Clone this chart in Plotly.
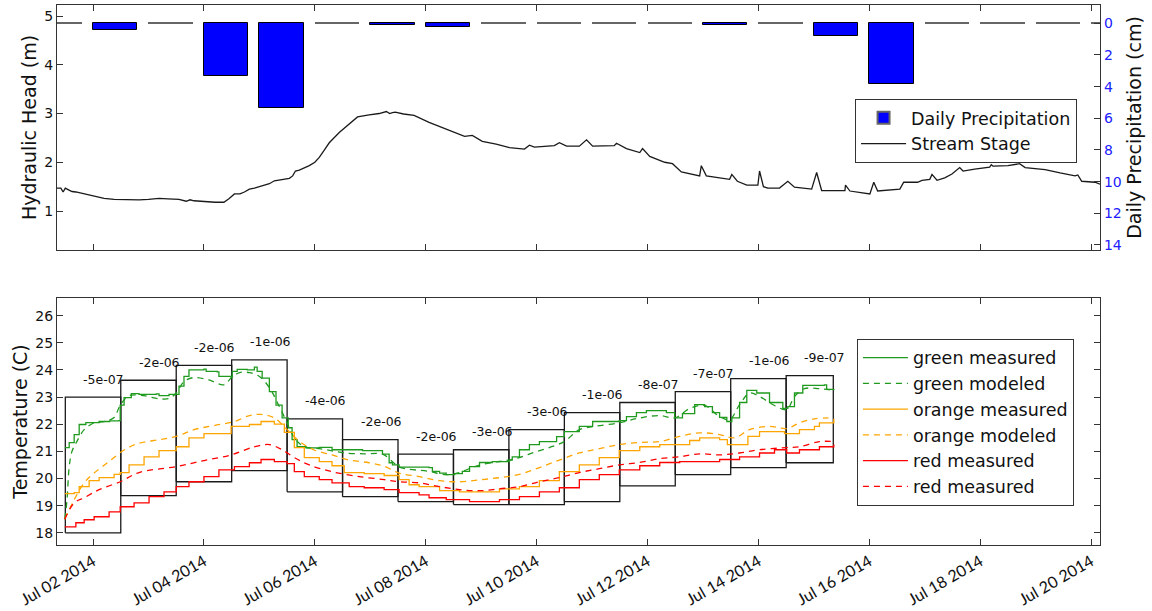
import pandas as pd
import plotly.graph_objects as go

# ---------------------------------------------------------------- data
# days are given as fractional day-of-July 2014 (1.5 = Jul 01 12:00)

precip_day = [1, 2, 3, 4, 5, 6, 7, 8, 9, 10, 11, 12, 13, 14, 15, 16, 17, 18, 19, 20]
precip_cm = [0, 0.45, 0, 3.34, 5.36, 0, 0.1, 0.22, 0, 0, 0, 0, 0.12, 0, 0.82, 3.85, 0, 0, 0, 0]

stage_day = [1.35, 1.42, 1.46, 1.50, 1.55, 1.62, 1.69, 1.85, 2.02, 2.2, 2.38, 2.6, 2.83, 3.0,
             3.19, 3.35, 3.55, 3.68, 3.75, 3.82, 4.0, 4.2, 4.36, 4.45, 4.55, 4.65, 4.73, 4.82,
             4.91, 5.09, 5.18, 5.27, 5.4, 5.54, 5.6, 5.65, 5.72, 5.9, 6.0, 6.08, 6.17, 6.26,
             6.44, 6.62, 6.77, 6.98, 7.16, 7.29, 7.35, 7.40, 7.45, 7.6, 7.79, 8.06, 8.30, 8.52,
             8.70, 8.84, 9.02, 9.27, 9.51, 9.78, 9.87, 9.96, 10.32, 10.41, 10.54, 10.77, 10.90,
             11.01, 11.40, 11.44, 11.62, 11.86, 11.91, 12.04, 12.31, 12.45, 12.61, 12.94, 12.97,
             13.06, 13.48, 13.52, 13.62, 13.79, 13.99, 14.02, 14.09, 14.17, 14.38, 14.53, 14.65,
             14.96, 15.05, 15.14, 15.56, 15.57, 15.65, 16.01, 16.08, 16.15, 16.55, 16.62, 16.87,
             16.95, 17.09, 17.13, 17.22, 17.36, 17.49, 17.63, 17.69, 17.90, 18.17, 18.20, 18.23,
             18.5, 18.71, 18.81, 19.17, 19.44, 19.71, 19.76, 19.83, 20.07, 20.16]
stage_m = [1.47, 1.47, 1.39, 1.47, 1.44, 1.40, 1.39, 1.35, 1.30, 1.26, 1.24, 1.23, 1.23, 1.24,
           1.26, 1.25, 1.24, 1.20, 1.23, 1.21, 1.19, 1.18, 1.18, 1.25, 1.35, 1.35, 1.39, 1.45,
           1.47, 1.53, 1.56, 1.62, 1.64, 1.67, 1.72, 1.82, 1.84, 1.93, 2.0, 2.1, 2.25, 2.4,
           2.61, 2.78, 2.93, 2.97, 3.0, 3.04, 3.0, 3.02, 3.03, 2.99, 2.96, 2.82, 2.71, 2.61,
           2.53, 2.55, 2.43, 2.37, 2.30, 2.27, 2.35, 2.31, 2.34, 2.40, 2.33, 2.33, 2.46,
           2.33, 2.34, 2.39, 2.28, 2.20, 2.28, 2.12, 2.0, 1.97, 1.80, 1.72, 1.93,
           1.72, 1.65, 1.75, 1.61, 1.53, 1.53, 1.82, 1.50, 1.47, 1.47, 1.61, 1.49,
           1.45, 1.79, 1.42, 1.42, 1.53, 1.41, 1.35, 1.59, 1.41, 1.45, 1.59, 1.59,
           1.63, 1.65, 1.75, 1.63, 1.68, 1.76, 1.89, 1.82, 1.86, 1.90, 1.95, 1.92,
           1.93, 1.97, 1.89, 1.85, 1.78, 1.72, 1.74, 1.61, 1.59, 1.55]

green_meas_day = [1.49, 1.57, 1.66, 1.75, 1.87, 2.11, 2.3, 2.47, 2.49, 2.56, 2.69, 2.83, 3.14, 3.19,
                  3.37, 3.50, 3.55, 3.64, 3.73, 4.0, 4.04, 4.24, 4.27, 4.49, 4.51, 4.60, 4.78,
                  4.91, 4.96, 5.05, 5.18, 5.30, 5.41, 5.52, 5.59, 5.68, 5.84, 6.08, 6.31, 6.86,
                  7.11, 7.22, 7.34, 7.40, 7.52, 8.06, 8.12, 8.25, 8.37, 8.52, 8.66, 8.79, 8.97,
                  9.2, 9.45, 9.51, 9.56, 9.69, 9.87, 10.05, 10.36, 10.50, 10.77, 11.01, 11.49,
                  11.62, 11.80, 11.98, 12.34, 12.49, 12.63, 12.85, 13.03, 13.17, 13.30, 13.43,
                  13.52, 13.66, 13.79, 13.97, 14.20, 14.44, 14.53, 14.65, 14.80, 15.05, 15.19,
                  15.23, 15.36]
green_meas_t = [21.14, 21.32, 21.62, 21.99, 22.06, 22.1, 22.12, 22.13, 22.7, 22.98, 23.13, 23.1, 23.12,
                23.05, 23.1, 23.1, 23.4, 23.76, 24.0, 24.03, 23.95, 23.93, 23.76, 23.73, 23.95, 24.02,
                24.0, 24.1, 23.95, 23.7, 23.2, 22.7, 22.23, 21.87, 21.43, 21.17, 21.13, 21.15, 21.06,
                21.03, 21.03, 20.9, 20.58, 20.5, 20.42, 20.4, 20.26, 20.2, 20.14, 20.18, 20.26, 20.44,
                20.59, 20.62, 20.62, 20.68, 20.8, 21.06, 21.25, 21.36, 21.54, 21.73, 21.92, 22.1,
                22.13, 22.28, 22.43, 22.5, 22.43, 22.23, 22.39, 22.72, 22.65, 22.43, 22.25, 22.1,
                22.23, 22.8, 23.25, 23.15, 22.8, 22.58, 22.65, 23.15, 23.43, 23.43, 23.45, 23.28,
                23.25]

green_mod_day = [1.49, 1.53, 1.57, 1.62, 1.71, 1.84, 2.02, 2.20, 2.38, 2.49, 2.65, 2.92, 3.19, 3.37,
                 3.50, 3.64, 3.82, 4.09, 4.36, 4.49, 4.64, 4.82, 5.0, 5.18, 5.36, 5.50, 5.63, 5.81,
                 6.08, 6.31, 6.53, 6.89, 7.22, 7.40, 7.52, 8.06, 8.37, 8.61, 8.88, 9.20, 9.45,
                 9.69, 9.96, 10.23, 10.50, 10.77, 11.04, 11.49, 11.86, 12.22, 12.49, 12.76, 13.03,
                 13.30, 13.48, 13.66, 13.84, 14.02, 14.29, 14.51, 14.65, 14.83, 15.10, 15.36]
green_mod_t = [18.5, 19.2, 20.43, 21.0, 21.37, 21.8, 22.05, 22.1, 22.25, 22.7, 23.05, 23.05, 22.94,
               22.95, 23.15, 23.57, 23.72, 23.63, 23.45, 23.7, 23.9, 23.9, 23.76, 23.35, 22.65,
               22.05, 21.5, 21.17, 21.1, 21.02, 20.94, 20.91, 20.9, 20.62, 20.42, 20.26, 20.14,
               20.22, 20.44, 20.59, 20.66, 20.77, 20.97, 21.14, 21.36, 21.8, 21.92, 22.05, 22.23,
               22.32, 22.23, 22.58, 22.69, 22.28, 22.17, 22.72, 23.15, 23.02, 22.69, 22.54, 23.02,
               23.31, 23.31, 23.25]

orange_meas_day = [1.49, 1.66, 1.75, 1.93, 2.11, 2.38, 2.49, 2.65, 2.92, 3.19, 3.50, 3.73, 4.0, 4.49,
                   4.82, 5.03, 5.27, 5.45, 5.63, 5.81, 6.08, 6.31, 6.53, 6.89, 7.25, 7.52, 7.7,
                   7.88, 8.25, 8.61, 8.97, 9.33, 9.69, 10.05, 10.41, 10.77, 11.13, 11.49, 11.86,
                   12.22, 12.58, 12.76, 12.94, 13.30, 13.44, 13.66, 13.81, 14.02, 14.47, 14.74,
                   15.01, 15.10, 15.36]
orange_meas_t = [19.44, 19.48, 19.7, 19.92, 20.03, 20.15, 20.22, 20.5, 20.8, 21.03, 21.17, 21.5, 21.65,
                 21.92, 21.99, 22.1, 22.0, 21.7, 21.14, 20.77, 20.62, 20.47, 20.22, 20.18, 20.11,
                 19.96, 19.77, 19.7, 19.55, 19.51, 19.51, 19.62, 19.7, 19.92, 20.25, 20.5, 20.77,
                 21.03, 21.17, 21.25, 21.25, 21.4, 21.5, 21.43, 21.25, 21.25, 21.55, 21.73, 21.65,
                 21.8, 21.92, 22.05, 22.2]

orange_mod_day = [1.49, 1.66, 1.84, 2.02, 2.29, 2.56, 2.83, 3.19, 3.50, 3.82, 4.18, 4.55, 4.82, 5.03,
                  5.27, 5.50, 5.72, 5.99, 6.31, 6.62, 6.98, 7.25, 7.52, 7.88, 8.25, 8.61, 8.97,
                  9.33, 9.69, 10.05, 10.41, 10.77, 11.13, 11.49, 11.86, 12.22, 12.58, 12.94, 13.30,
                  13.57, 13.84, 14.20, 14.51, 14.74, 15.01, 15.36]
orange_mod_t = [18.5, 19.22, 19.84, 20.2, 20.63, 21.05, 21.3, 21.43, 21.55, 21.8, 21.95, 22.1, 22.32,
                22.36, 22.23, 21.8, 21.37, 21.05, 20.87, 20.68, 20.58, 20.45, 20.2, 20.07, 19.92,
                19.88, 19.95, 20.03, 20.15, 20.4, 20.68, 20.94, 21.1, 21.25, 21.33, 21.36, 21.55,
                21.68, 21.62, 21.5, 21.8, 21.92, 21.84, 22.05, 22.2, 22.23]

red_meas_day = [1.49, 1.69, 1.84, 2.02, 2.29, 2.49, 2.74, 3.01, 3.28, 3.50, 3.73, 4.0, 4.27, 4.55,
                4.82, 5.03, 5.27, 5.50, 5.63, 5.81, 6.08, 6.31, 6.62, 6.89, 7.25, 7.52, 7.88,
                8.06, 8.37, 8.79, 9.33, 9.69, 10.05, 10.41, 10.77, 11.13, 11.49, 11.86, 12.22,
                12.58, 13.30, 13.66, 14.02, 14.29, 14.51, 14.74, 15.10, 15.36]
red_meas_t = [18.22, 18.37, 18.48, 18.59, 18.77, 18.96, 19.1, 19.33, 19.51, 19.7, 19.88, 20.07, 20.32,
              20.44, 20.58, 20.7, 20.62, 20.55, 20.25, 20.07, 19.96, 19.84, 19.7, 19.66, 19.59,
              19.48, 19.4, 19.29, 19.22, 19.15, 19.22, 19.33, 19.51, 19.66, 19.96, 20.14, 20.32,
              20.47, 20.59, 20.62, 20.7, 20.8, 20.94, 21.06, 20.94, 21.06, 21.17, 21.25]

red_mod_day = [1.49, 1.66, 1.84, 2.11, 2.49, 2.83, 3.50, 4.0, 4.49, 4.91, 5.18, 5.41, 5.63, 5.90,
               6.31, 6.80, 7.25, 7.52, 7.88, 8.25, 8.61, 8.97, 9.33, 9.69, 10.05, 10.41, 10.77,
               11.13, 11.49, 11.86, 12.22, 12.58, 12.94, 13.30, 13.66, 14.02, 14.51, 14.74,
               15.10, 15.36]
red_mod_t = [18.5, 19.1, 19.29, 19.59, 19.88, 20.22, 20.44, 20.66, 20.87, 21.17, 21.25, 21.06, 20.77,
             20.5, 20.25, 20.07, 19.96, 19.88, 19.84, 19.7, 19.59, 19.55, 19.62, 19.7, 19.88,
             20.03, 20.22, 20.36, 20.5, 20.59, 20.73, 20.8, 20.91, 20.87, 20.94, 21.06, 21.14,
             21.17, 21.36, 21.36]

# daily analysis windows and the flux value fitted for each one
window_start = [1.5, 2.5, 3.5, 4.5, 5.5, 6.5, 7.5, 8.5, 9.5, 10.5, 11.5, 12.5, 13.5, 14.5]
window_end = [2.5, 3.5, 4.5, 5.5, 6.5, 7.5, 8.5, 9.5, 10.5, 11.5, 12.5, 13.5, 14.5, 15.35]
window_low = [18.0, 19.37, 19.88, 20.29, 19.51, 19.33, 19.15, 19.04, 19.04, 19.15, 19.73, 20.14, 20.4, 20.58]
window_high = [23.0, 23.62, 24.17, 24.37, 22.2, 21.43, 20.9, 21.06, 21.8, 22.43, 22.8, 23.2, 23.68, 23.79]
window_flux = ["-5e-07", "-2e-06", "-2e-06", "-1e-06", "-4e-06", "-2e-06", "-2e-06", "-3e-06",
               "-3e-06", "-1e-06", "-8e-07", "-7e-07", "-1e-06", "-9e-07"]

# ---------------------------------------------------------------- helpers
JUL1 = pd.Timestamp("2014-07-01")


def to_time(days):
    return [JUL1 + pd.Timedelta(days=d - 1) for d in days]


FONT = "DejaVu Sans"
INK = "#111111"
FRAME = "#333333"
GREEN, ORANGE, RED = "#1f9a1f", "#ffa500", "#ff0000"

fig = go.Figure()

# ---------------------------------------------------------------- top panel
# dry days still get an outline so the zero line shows through
bar_edge = ["#000000" if v > 0 else "#666666" for v in precip_cm]
bar_edge_w = [1 if v > 0 else 2 for v in precip_cm]
fig.add_trace(go.Bar(
    x=to_time(precip_day), y=precip_cm, name="Daily Precipitation",
    xaxis="x", yaxis="y2", offset=0, width=0.8 * 86400000,
    marker=dict(color="#0000ff", line=dict(color=bar_edge, width=bar_edge_w)),
    legend="legend",
))
fig.add_trace(go.Scatter(
    x=to_time(stage_day), y=stage_m, name="Stream Stage", mode="lines",
    xaxis="x", yaxis="y", line=dict(color="#1a1a1a", width=1.3),
    legend="legend",
))

# ---------------------------------------------------------------- bottom panel
box_x, box_y = [], []
for s, e, lo, hi in zip(window_start, window_end, window_low, window_high):
    t0, t1 = to_time([s, e])
    box_x += [t0, t0, t1, t1, t0, None]
    box_y += [lo, hi, hi, lo, lo, None]
fig.add_trace(go.Scatter(
    x=box_x, y=box_y, mode="lines", xaxis="x2", yaxis="y3",
    line=dict(color="#1a1a1a", width=1.3), showlegend=False, hoverinfo="skip",
))

series = [
    ("green measured", green_meas_day, green_meas_t, GREEN, "solid", "hv"),
    ("green modeled", green_mod_day, green_mod_t, GREEN, "dash", "spline"),
    ("orange measured", orange_meas_day, orange_meas_t, ORANGE, "solid", "hv"),
    ("orange modeled", orange_mod_day, orange_mod_t, ORANGE, "dash", "spline"),
    ("red measured", red_meas_day, red_meas_t, RED, "solid", "hv"),
    ("red measured", red_mod_day, red_mod_t, RED, "dash", "spline"),
]
for name, d, t, col, dash, shape in series:
    fig.add_trace(go.Scatter(
        x=to_time(d), y=t, name=name, mode="lines", xaxis="x2", yaxis="y3",
        line=dict(color=col, width=1.3, dash="6px,5px" if dash == "dash" else "solid", shape=shape),
        legend="legend2",
    ))

annotations = []
for s, hi, txt in zip(window_start, window_high, window_flux):
    annotations.append(dict(
        x=to_time([s + 0.29])[0], y=hi + 0.66, xref="x2", yref="y3", text=txt,
        showarrow=False, xanchor="left", yanchor="middle",
        font=dict(family=FONT, size=12.5, color=INK),
    ))

# ---------------------------------------------------------------- layout
x_range = to_time([1.35, 20.16])
tick_font = dict(family=FONT, size=14, color=INK)
common_x = dict(
    type="date", range=x_range, tick0="2014-07-02", dtick=2 * 86400000, automargin=False,
    ticks="inside", ticklen=6, tickcolor=FRAME, showline=True, linecolor=FRAME, linewidth=1.3,
    mirror="ticks", showgrid=False, zeroline=False,
)
common_y = dict(
    automargin=False, ticks="inside", ticklen=6, tickcolor=FRAME, showline=True,
    linecolor=FRAME, linewidth=1.3, showgrid=False, zeroline=False,
)
legend_style = dict(xanchor="right", yanchor="top", bgcolor="white", bordercolor=FRAME,
                    borderwidth=1, itemwidth=45, tracegroupgap=0,
                    font=dict(family=FONT, size=17.5, color=INK))

fig.update_layout(
    width=1152, height=611,
    margin=dict(l=57, r=52, t=5, b=66, autoexpand=False),
    paper_bgcolor="white", plot_bgcolor="white",
    font=dict(family=FONT, color=INK),
    bargap=0,
    xaxis=dict(common_x, anchor="y", showticklabels=False),
    xaxis2=dict(common_x, anchor="y3", tickformat="%b %d %Y", tickangle=-30,
                tickfont=dict(family="Lato", size=16, color=INK)),
    yaxis=dict(common_y, domain=[0.5463, 1], range=[0.2, 5.226], dtick=1, tick0=0,
               mirror=True, tickfont=tick_font,
               title=dict(text="Hydraulic Head (m)", font=dict(family=FONT, size=19, color=INK),
                          standoff=2)),
    yaxis2=dict(common_y, overlaying="y", side="right", anchor="x", range=[14.32, -1.155],
                dtick=2, tick0=0, tickfont=dict(family=FONT, size=14, color="#2020ff"),
                title=dict(text="Daily Precipitation (cm)", font=dict(family=FONT, size=19, color=INK),
                           standoff=6)),
    yaxis3=dict(common_y, domain=[0, 0.4574], anchor="x2", range=[17.55, 26.65], dtick=1, tick0=0,
                mirror="ticks", tickfont=tick_font,
                title=dict(text="Temperature (C)", font=dict(family=FONT, size=19, color=INK),
                           standoff=2)),
    legend=dict(legend_style, x=0.978, y=0.826),
    legend2=dict(legend_style, x=0.975, y=0.382),
    annotations=annotations,
)

fig.write_html("out.html")
